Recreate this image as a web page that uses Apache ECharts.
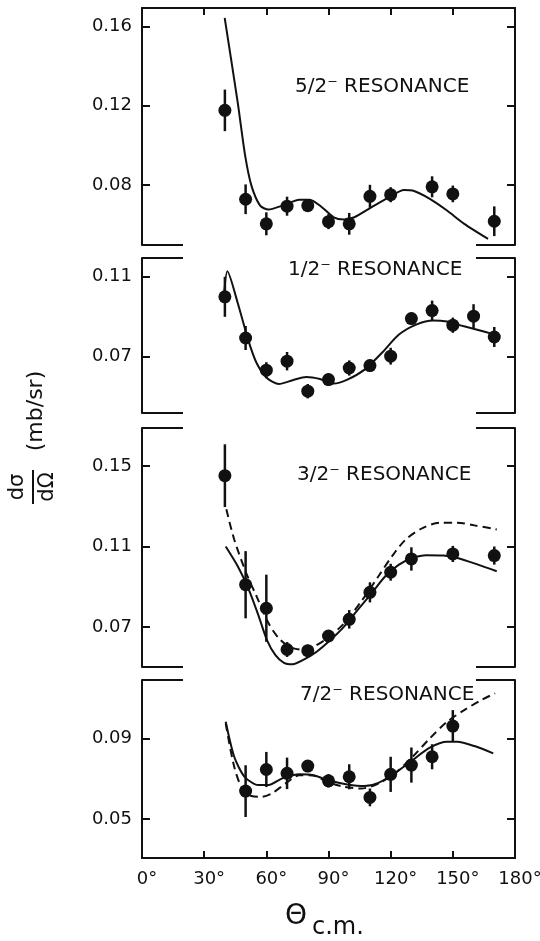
<!DOCTYPE html>
<html>
<head>
<meta charset="utf-8">
<title>Resonance fits</title>
<script src="https://cdn.jsdelivr.net/npm/echarts@6/dist/echarts.min.js"></script>
<style>
html, body { margin: 0; padding: 0; background: #fff; }
#main { width: 540px; height: 941px; }
</style>
</head>
<body>
<div id="main"></div>
<script>
// ---- data (angles in degrees, dσ/dΩ in mb/sr) ----
var panelTitles = ['5/2⁻ RESONANCE', '1/2⁻ RESONANCE', '3/2⁻ RESONANCE', '7/2⁻ RESONANCE'];

// 5/2- resonance
var p1Angle = [40, 50, 60, 70, 80, 90, 100, 110, 120, 140, 150, 170];
var p1Value = [0.1177, 0.0728, 0.0604, 0.0693, 0.0696, 0.0615, 0.0604, 0.0743, 0.0751, 0.0791, 0.0755, 0.0617];
var p1Err   = [0.0105, 0.0075, 0.0058, 0.0048, 0.0033, 0.0038, 0.0055, 0.0058, 0.0038, 0.0053, 0.0042, 0.0075];
var p1FitX  = [39.9, 46.2, 49.8, 52.8, 57, 61, 67.7, 76, 81, 86.8, 92.5, 97.5, 102.5, 110.8, 119, 126.5, 130.6, 138.9, 147.2, 155.5, 167];
var p1FitY  = [0.1644, 0.1216, 0.0947, 0.0797, 0.0696, 0.0676, 0.0696, 0.0726, 0.0726, 0.0688, 0.0637, 0.0626, 0.0637, 0.0688, 0.0738, 0.0775, 0.0772, 0.073, 0.0671, 0.0604, 0.0528];

// 1/2- resonance
var p2Angle = [40, 50, 60, 70, 80, 90, 100, 110, 120, 130, 140, 150, 160, 170];
var p2Value = [0.0999, 0.0793, 0.0632, 0.0677, 0.0527, 0.0585, 0.0643, 0.0655, 0.0702, 0.089, 0.093, 0.0857, 0.0902, 0.0798];
var p2Err   = [0.01, 0.006, 0.004, 0.0046, 0.0036, 0.003, 0.0038, 0.003, 0.0042, 0.003, 0.005, 0.0038, 0.006, 0.005];
var p2FitX  = [39.6, 41.2, 46.2, 51.2, 55.3, 60.3, 66.1, 72.7, 79.3, 85.9, 92.5, 99.1, 107.4, 115.7, 124, 132.3, 140.6, 147.2, 152.2, 160.4, 170.3];
var p2FitY  = [0.101, 0.1127, 0.0968, 0.0785, 0.0668, 0.0593, 0.0563, 0.0582, 0.0598, 0.0588, 0.0565, 0.0585, 0.0635, 0.0718, 0.081, 0.086, 0.088, 0.0875, 0.086, 0.0838, 0.081];

// 3/2- resonance
var p3Angle = [40, 50, 60, 70, 80, 90, 100, 110, 120, 130, 150, 170];
var p3Value = [0.1452, 0.091, 0.0793, 0.0588, 0.0582, 0.0655, 0.0738, 0.0872, 0.0972, 0.1038, 0.1063, 0.1055];
var p3Err   = [0.0156, 0.0167, 0.0167, 0.0037, 0.003, 0.003, 0.0046, 0.005, 0.0042, 0.0058, 0.004, 0.0045];
var p3FitX  = [40.4, 46.2, 51.2, 56.1, 60.3, 64.4, 68.5, 72.7, 77.6, 84.3, 90.9, 97.5, 104.1, 110.8, 117.4, 124, 130.6, 137.2, 145.5, 152.2, 162.1, 171.2];
var p3FitY  = [0.110, 0.1002, 0.0894, 0.076, 0.0635, 0.056, 0.0522, 0.0515, 0.0535, 0.0577, 0.0635, 0.0702, 0.0785, 0.0868, 0.0952, 0.101, 0.1043, 0.1057, 0.1055, 0.1043, 0.101, 0.0977];
var p3DashX = [40.7, 44.5, 50.3, 55.3, 61.1, 66.1, 71.1, 76.9, 82.7, 89.3, 97.5, 105.8, 114.1, 120.7, 127.3, 135.6, 143.9, 152.2, 160.4, 171.2];
var p3DashY = [0.1285, 0.1135, 0.0968, 0.0852, 0.0718, 0.0643, 0.0602, 0.0588, 0.0602, 0.0643, 0.0718, 0.0827, 0.0952, 0.1052, 0.1135, 0.1193, 0.1218, 0.1218, 0.1205, 0.1185];

// 7/2- resonance
var p4Angle = [50, 60, 70, 80, 90, 100, 110, 120, 130, 140, 150];
var p4Value = [0.0639, 0.0746, 0.0727, 0.0763, 0.069, 0.071, 0.0608, 0.0722, 0.0768, 0.0809, 0.0961];
var p4Err   = [0.0128, 0.0087, 0.0078, 0.003, 0.0033, 0.0062, 0.0044, 0.0087, 0.0087, 0.0062, 0.0079];
var p4FitX  = [40.4, 44.5, 49.5, 56.1, 61.1, 67.7, 76, 82.7, 90.9, 99.1, 107.4, 114.1, 122.4, 130.6, 138.9, 147.2, 152.2, 160.4, 169.5];
var p4FitY  = [0.0982, 0.0809, 0.071, 0.0669, 0.0669, 0.0702, 0.0723, 0.0718, 0.069, 0.0672, 0.0664, 0.068, 0.073, 0.0793, 0.0854, 0.0883, 0.0883, 0.0862, 0.0826];
var p4DashX = [40.4, 44.5, 48.7, 52.8, 57.7, 62.7, 69.3, 76, 82.7, 89.3, 97.5, 105.8, 114.1, 122.4, 130.6, 138.9, 147.2, 155.5, 163.8, 170.4];
var p4DashY = [0.0974, 0.076, 0.0644, 0.0615, 0.0611, 0.0628, 0.0677, 0.0718, 0.0716, 0.0685, 0.066, 0.0652, 0.0677, 0.073, 0.0809, 0.09, 0.0982, 0.104, 0.109, 0.1123];

// axes
var yMin   = [0.0497, 0.0418, 0.0501, 0.0308];
var yMax   = [0.1694, 0.1193, 0.1689, 0.1189];
var yTicks = [[0.08, 0.12, 0.16], [0.07, 0.11], [0.07, 0.11, 0.15], [0.05, 0.09]];
var xTickMarks  = [30, 60, 90, 120, 150];
var xTickLabels = [0, 30, 60, 90, 120, 150, 180];

// ---- layout ----
var INK = '#111';
var FONT = 'DejaVu Sans';
var gridL = 142, gridR = 25, plotRight = 540 - gridR;
var panels = [
    { top: 8,   height: 237 },
    { top: 258, height: 155 },
    { top: 428, height: 239 },
    { top: 680, height: 178 }
];
var titlePos = [[295, 87], [288, 270], [297, 475], [300, 695]];

function zip(a, b) {
    var out = [];
    for (var i = 0; i < a.length; i++) out.push([a[i], b[i]]);
    return out;
}

var pointSets = [
    { a: p1Angle, v: p1Value, e: p1Err, fx: p1FitX, fy: p1FitY },
    { a: p2Angle, v: p2Value, e: p2Err, fx: p2FitX, fy: p2FitY },
    { a: p3Angle, v: p3Value, e: p3Err, fx: p3FitX, fy: p3FitY, dx: p3DashX, dy: p3DashY },
    { a: p4Angle, v: p4Value, e: p4Err, fx: p4FitX, fy: p4FitY, dx: p4DashX, dy: p4DashY }
];

var grids = [], xAxes = [], yAxes = [], series = [], graphics = [];

panels.forEach(function (p, i) {
    grids.push({ left: gridL, right: gridR, top: p.top, height: p.height, outerBoundsMode: 'none', containLabel: false });

    var edge = (i === 0 || i === 3);
    xAxes.push({
        gridIndex: i, type: 'value', min: 0, max: 180,
        show: edge,
        position: i === 0 ? 'top' : 'bottom',
        axisLine: { show: true, lineStyle: { color: INK, width: 2 } },
        axisTick: { show: true, inside: true, length: 7, customValues: xTickMarks, lineStyle: { color: INK, width: 2 } },
        axisLabel: {
            show: i === 3, customValues: xTickLabels, margin: 12,
            color: INK, fontFamily: FONT, fontSize: 18,
            padding: [0, 0, 0, 10],
            formatter: function (v) { return v + '°'; }
        },
        splitLine: { show: false }
    });

    ['left', 'right'].forEach(function (side) {
        yAxes.push({
            gridIndex: i, type: 'value', min: yMin[i], max: yMax[i], position: side,
            axisLine: { show: true, onZero: false, lineStyle: { color: INK, width: 2 } },
            axisTick: { show: true, inside: true, length: 8, customValues: yTicks[i], lineStyle: { color: INK, width: 2 } },
            axisLabel: {
                show: side === 'left', customValues: yTicks[i], margin: 10,
                color: INK, fontFamily: FONT, fontSize: 18,
                formatter: function (v) { return v.toFixed(2); }
            },
            splitLine: { show: false }
        });
    });

    var d = pointSets[i];
    var yi = 2 * i;

    series.push({
        type: 'line', xAxisIndex: i, yAxisIndex: yi, data: zip(d.fx, d.fy),
        smooth: 0.25, symbol: 'none', silent: true, z: 2,
        lineStyle: { color: INK, width: 2 }
    });
    if (d.dx) {
        series.push({
            type: 'line', xAxisIndex: i, yAxisIndex: yi, data: zip(d.dx, d.dy),
            smooth: 0.3, symbol: 'none', silent: true, z: 2,
            lineStyle: { color: INK, width: 2, type: [8, 5] }
        });
    }
    series.push({
        type: 'custom', xAxisIndex: i, yAxisIndex: yi,
        data: d.a.map(function (a, k) { return [a, d.v[k] - d.e[k], d.v[k] + d.e[k]]; }),
        encode: { x: 0, y: [1, 2] },
        z: 3,
        renderItem: function (params, api) {
            var lo = api.coord([api.value(0), api.value(1)]);
            var hi = api.coord([api.value(0), api.value(2)]);
            return {
                type: 'line',
                shape: { x1: lo[0], y1: lo[1], x2: hi[0], y2: hi[1] },
                style: { stroke: INK, lineWidth: 2.5 }
            };
        }
    });
    series.push({
        type: 'scatter', xAxisIndex: i, yAxisIndex: yi, data: zip(d.a, d.v),
        symbol: 'circle', symbolSize: 13, z: 4,
        itemStyle: { color: INK, opacity: 1 }
    });

    // broken frame edges between stacked panels
    var seg = function (y) {
        graphics.push({ type: 'line', shape: { x1: gridL, y1: y, x2: gridL + 41, y2: y }, style: { stroke: INK, lineWidth: 2 } });
        graphics.push({ type: 'line', shape: { x1: plotRight - 39, y1: y, x2: plotRight, y2: y }, style: { stroke: INK, lineWidth: 2 } });
    };
    if (i < 3) seg(p.top + p.height);
    if (i > 0) seg(p.top);

    graphics.push({
        type: 'text', x: titlePos[i][0], y: titlePos[i][1],
        style: { text: panelTitles[i], fontFamily: FONT, fontSize: 20, fill: INK, align: 'left', verticalAlign: 'middle' }
    });
});

// y-axis title: dσ/dΩ (mb/sr), rotated
graphics.push(
    { type: 'text', x: 18, y: 487, rotation: Math.PI / 2,
      style: { text: 'dσ', fontFamily: FONT, fontSize: 21, fill: INK, align: 'center', verticalAlign: 'middle' } },
    { type: 'line', shape: { x1: 33, y1: 470, x2: 33, y2: 504 }, style: { stroke: INK, lineWidth: 2 } },
    { type: 'text', x: 48, y: 487, rotation: Math.PI / 2,
      style: { text: 'dΩ', fontFamily: FONT, fontSize: 21, fill: INK, align: 'center', verticalAlign: 'middle' } },
    { type: 'text', x: 36, y: 411, rotation: Math.PI / 2,
      style: { text: '(mb/sr)', fontFamily: FONT, fontSize: 22, fill: INK, align: 'center', verticalAlign: 'middle' } }
);

// x-axis title: Θ c.m.
graphics.push(
    { type: 'text', x: 296, y: 917,
      style: { text: 'Θ', fontFamily: FONT, fontSize: 28, fill: INK, align: 'center', verticalAlign: 'middle' } },
    { type: 'text', x: 312, y: 940,
      style: { text: 'c.m.', fontFamily: FONT, fontSize: 24, fill: INK, align: 'left', verticalAlign: 'bottom' } }
);

var chart = echarts.init(document.getElementById('main'), null, { renderer: 'canvas' });
chart.setOption({
    animation: false,
    backgroundColor: '#fff',
    grid: grids,
    xAxis: xAxes,
    yAxis: yAxes,
    series: series,
    graphic: graphics
});
</script>
</body>
</html>
